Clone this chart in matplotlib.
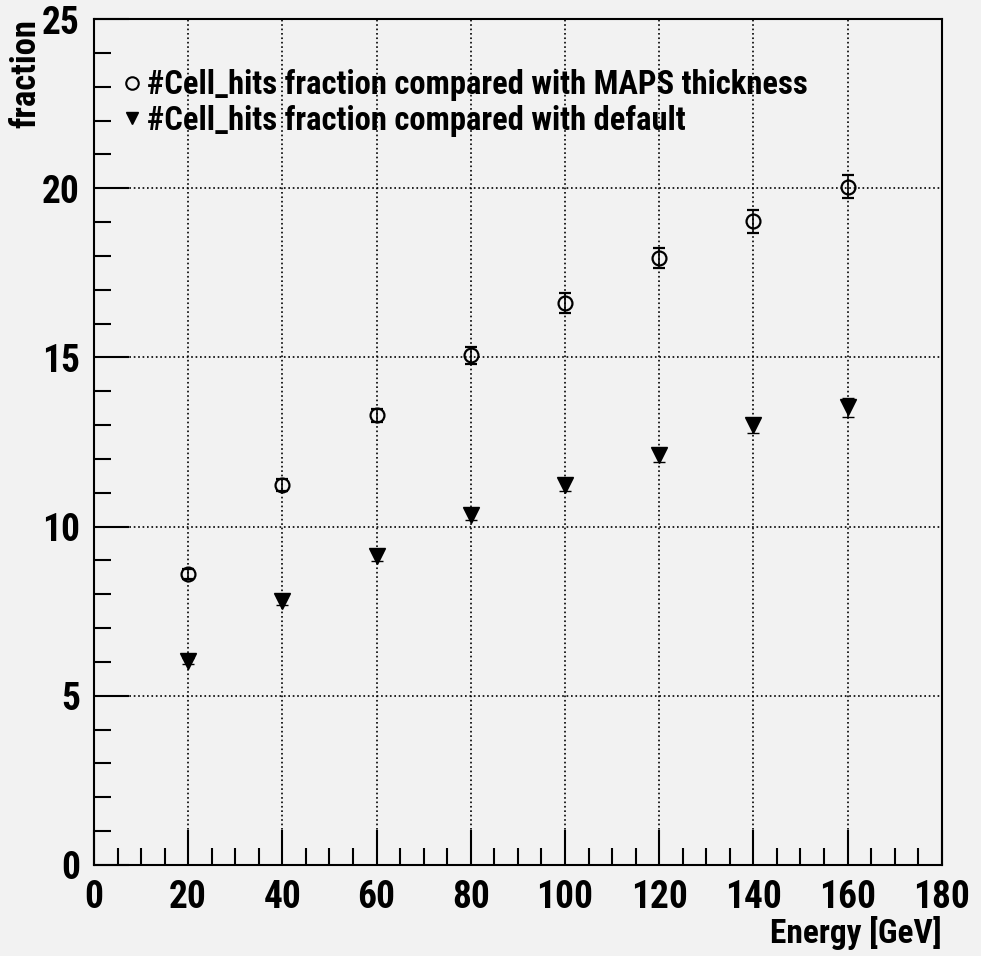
import matplotlib
matplotlib.use("Agg")
import matplotlib.pyplot as plt
from matplotlib import font_manager as fm
from matplotlib.ticker import MultipleLocator
from matplotlib.lines import Line2D

# beam energies and cell-hit fractions
energy = [20, 40, 60, 80, 100, 120, 140, 160]
frac_maps = [8.59, 11.24, 13.29, 15.06, 16.62, 17.94, 19.02, 20.05]
frac_maps_err = [0.15, 0.18, 0.2, 0.25, 0.3, 0.3, 0.35, 0.35]
frac_default = [6.03, 7.79, 9.12, 10.35, 11.24, 12.12, 12.99, 13.53]
frac_default_err = [0.1, 0.12, 0.14, 0.16, 0.18, 0.2, 0.22, 0.28]

label_maps = "#Cell_hits fraction compared with MAPS thickness"
label_default = "#Cell_hits fraction compared with default"

BG = '#f2f2f2'


def pick_font():
    # narrow bold sans if one is around, otherwise the narrowest regular one
    names = {f.name for f in fm.fontManager.ttflist}
    for w in ['Liberation Sans Narrow', 'Noto Sans Condensed', 'Roboto Condensed',
              'DejaVu Sans Condensed', 'Open Sans Condensed']:
        if w in names:
            return w, 'normal'
    for f in fm.fontManager.ttflist:
        st = str(f.stretch).lower()
        if 'condensed' in st or 'Condensed' in f.fname or 'Narrow' in f.fname:
            return f.name, 'condensed'
    return 'Roboto', 'normal'


family, stretch = pick_font()
plt.rcParams['font.family'] = [family, 'DejaVu Sans']
plt.rcParams['font.stretch'] = stretch
plt.rcParams['font.weight'] = 'bold'
plt.rcParams['axes.labelweight'] = 'bold'

fig = plt.figure(figsize=(9.81, 9.56), dpi=100, facecolor=BG)
ax = fig.add_axes([0.0958, 0.0952, 0.8642, 0.8848], facecolor=BG)

ax.errorbar(energy, frac_maps, yerr=frac_maps_err, fmt='o', mfc='none', mec='black',
            mew=1.6, ms=10, ecolor='black', elinewidth=1.2, capsize=4, zorder=3)
ax.errorbar(energy, frac_default, yerr=frac_default_err, fmt='v', mfc='black', mec='black',
            ms=11, ecolor='black', elinewidth=1.2, capsize=4, zorder=3)

ax.set_xlim(0, 180)
ax.set_ylim(0, 25)
ax.xaxis.set_major_locator(MultipleLocator(20))
ax.xaxis.set_minor_locator(MultipleLocator(5))
ax.yaxis.set_major_locator(MultipleLocator(5))
ax.yaxis.set_minor_locator(MultipleLocator(1))
ax.tick_params(which='both', direction='in', top=False, right=False, width=1.5)
ax.tick_params(which='major', length=25, labelsize=27, pad=10)
ax.tick_params(which='minor', length=12)
ax.grid(True, which='major', color='black', linestyle=':', linewidth=1.2)
for s in ax.spines.values():
    s.set_linewidth(1.5)

ax.set_xlabel("Energy [GeV]", fontsize=24)
ax.xaxis.set_label_coords(1.0, -0.060)
ax.xaxis.label.set_ha('right')
ax.xaxis.label.set_va('top')
ax.set_ylabel("fraction", fontsize=25)
ax.yaxis.set_label_coords(-0.080, 1.0)
ax.yaxis.label.set_va('center')
ax.yaxis.label.set_ha('right')

handles = [
    Line2D([], [], marker='o', linestyle='none', mfc='none', mec='black', mew=1.5, ms=9),
    Line2D([], [], marker='v', linestyle='none', mfc='black', mec='black', ms=9),
]
ax.legend(handles, [label_maps, label_default], loc='upper left', bbox_to_anchor=(0.018, 0.956),
          frameon=False, fontsize=23.5, handlelength=0.6, handletextpad=0.15, labelspacing=0.1,
          borderaxespad=0)

fig.savefig("out.png", dpi=100, facecolor=BG)
